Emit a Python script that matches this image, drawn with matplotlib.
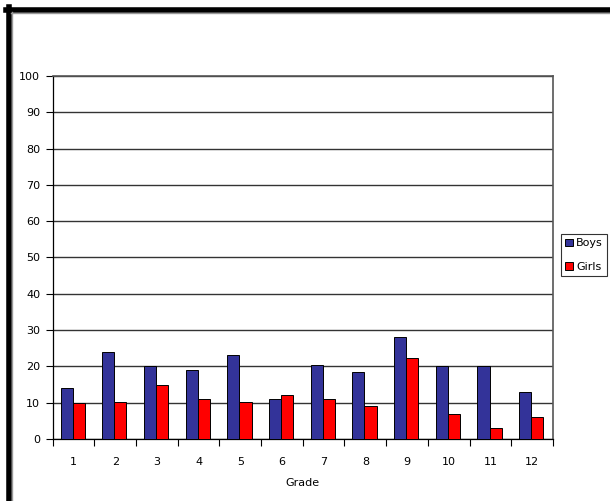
import matplotlib.pyplot as plt
import numpy as np
from matplotlib.lines import Line2D

grades = [1, 2, 3, 4, 5, 6, 7, 8, 9, 10, 11, 12]
boys = [14, 24, 20, 19, 23, 11, 20.4, 18.5, 28, 20, 20, 13]
girls = [10, 10.3, 15, 11, 10.3, 12, 11, 9, 22.4, 7, 3, 6]

fig = plt.figure(figsize=(6.1, 5.01), dpi=100)
ax = fig.add_axes([0.0864, 0.1238, 0.820, 0.7246])

x = np.arange(1, len(grades) + 1)
w = 0.29
ax.bar(x - w / 2 - 0.02, boys, w, color='#333399', edgecolor='black', linewidth=0.7, label='Boys', zorder=3)
ax.bar(x + w / 2 - 0.02, girls, w, color='#ff0000', edgecolor='black', linewidth=0.7, label='Girls', zorder=3)

ax.set_xlim(0.5, 12.5)
ax.set_ylim(0, 100)
ax.set_yticks(np.arange(0, 101, 10))
ax.set_xticks(x)
ax.set_xticklabels([str(g) for g in grades])
ax.set_xticks(np.arange(0.5, 12.6, 1), minor=True)
ax.tick_params(axis='x', which='major', length=0, pad=13, labelsize=8)
ax.tick_params(axis='x', which='minor', length=5, width=0.8, direction='out')
ax.tick_params(axis='y', length=5, width=0.8, direction='out', pad=4, labelsize=8)
ax.yaxis.grid(True, color='#333333', linewidth=1.0, zorder=0)
ax.set_axisbelow(True)

for s in ['top', 'right']:
    ax.spines[s].set_color('#555555')
    ax.spines[s].set_linewidth(1.2)
ax.spines['left'].set_linewidth(0.9)
ax.spines['bottom'].set_linewidth(0.9)

ax.set_xlabel('Grade', fontsize=8, labelpad=8)

leg = fig.legend(loc='upper left', bbox_to_anchor=(561 / 610, 1 - 234 / 501),
                 fontsize=8, frameon=True, fancybox=False, edgecolor='black',
                 handlelength=0.7, handleheight=0.7, handletextpad=0.25,
                 borderpad=0.4, labelspacing=1.2, borderaxespad=0)
leg.get_frame().set_linewidth(0.8)

# thick outer frame along top and left edges
fig.add_artist(Line2D([6 / 610, 1], [1 - 9.5 / 501, 1 - 9.5 / 501], color='black', linewidth=4, transform=fig.transFigure))
fig.add_artist(Line2D([8.5 / 610, 8.5 / 610], [0, 1 - 7 / 501], color='black', linewidth=4, transform=fig.transFigure))
fig.add_artist(Line2D([11 / 610, 1], [1 - 12.5 / 501, 1 - 12.5 / 501], color='#999999', linewidth=1, transform=fig.transFigure))
fig.add_artist(Line2D([11.5 / 610, 11.5 / 610], [0, 1 - 12 / 501], color='#999999', linewidth=1, transform=fig.transFigure))

fig.savefig('out.png', dpi=100)
